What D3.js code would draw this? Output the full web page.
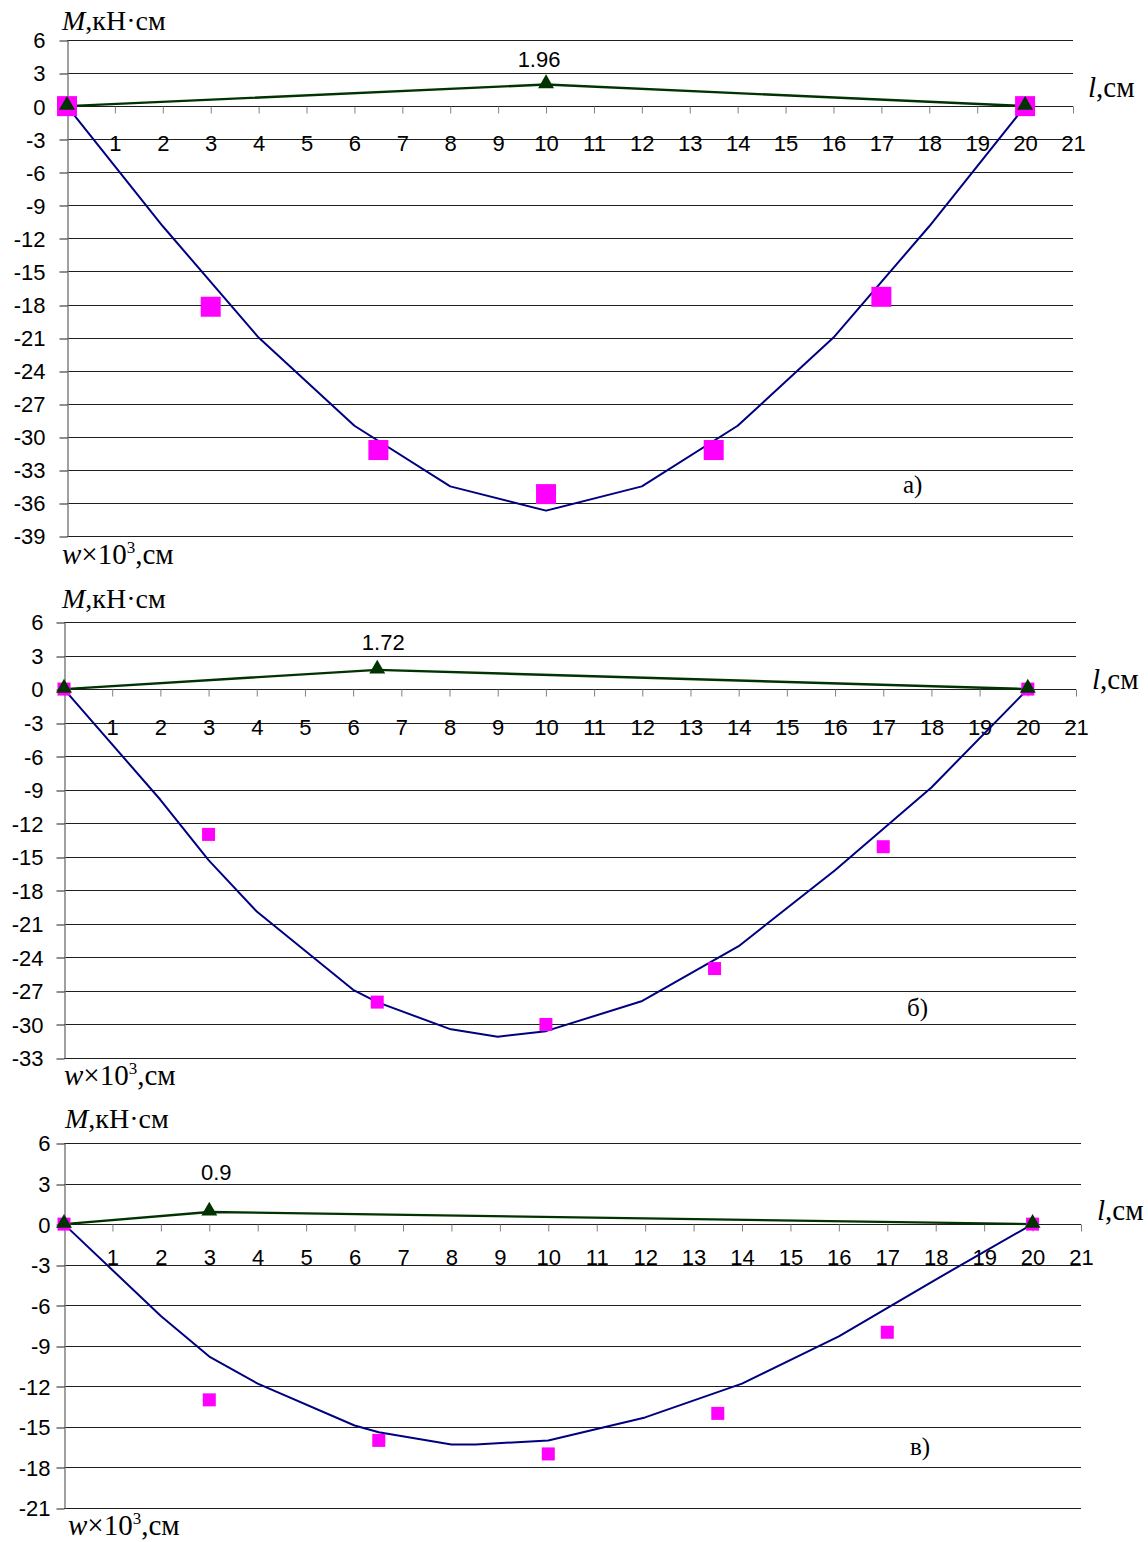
<!DOCTYPE html>
<html>
<head>
<meta charset="utf-8">
<script src="https://cdn.jsdelivr.net/npm/d3@7/dist/d3.min.js"></script>
<style>
  html, body { margin: 0; padding: 0; background: #fff; }
  svg { display: block; }
  .tick text { font-family: "Liberation Sans", Arial, sans-serif; font-size: 22px; fill: #000; }
  .serif { font-family: "Liberation Serif", "Times New Roman", serif; fill: #000; }
</style>
</head>
<body>
<svg id="chart" width="1148" height="1542"></svg>
<script>
// ---- data ----
const xTickLabels = [1, 2, 3, 4, 5, 6, 7, 8, 9, 10, 11, 12, 13, 14, 15, 16, 17, 18, 19, 20, 21];

const yTicksA = [6, 3, 0, -3, -6, -9, -12, -15, -18, -21, -24, -27, -30, -33, -36, -39];
const yTicksB = [6, 3, 0, -3, -6, -9, -12, -15, -18, -21, -24, -27, -30, -33];
const yTicksC = [6, 3, 0, -3, -6, -9, -12, -15, -18, -21];

// bending moment M, kN·cm
const momentXA = [0, 10, 20];
const momentYA = [0, 1.96, 0];
const momentXB = [0, 6.5, 20];
const momentYB = [0, 1.72, 0];
const momentXC = [0, 3, 20];
const momentYC = [0, 0.9, 0];

// calculated deflection w×10^3, cm
const calcXA = [0, 2, 4, 6, 8, 10, 12, 14, 16, 18, 20];
const calcYA = [0, -10.9, -21, -29, -34.5, -36.7, -34.5, -29, -21, -10.9, 0];
const calcXB = [0, 2, 3, 4, 6, 6.5, 8, 9, 10, 12, 14, 16, 18, 20];
const calcYB = [0, -9.9, -15.3, -19.9, -26.9, -28, -30.4, -31.1, -30.6, -27.9, -23, -16.2, -8.8, 0];
const calcXC = [0, 2, 3, 4, 6, 6.5, 8, 8.5, 10, 12, 14, 16, 18, 20];
const calcYC = [0, -6.8, -9.8, -11.8, -14.9, -15.4, -16.3, -16.3, -16.0, -14.3, -11.8, -8.3, -4.1, 0];

// measured deflection w×10^3, cm
const measXA = [0, 3, 6.5, 10, 13.5, 17, 20];
const measYA = [0, -18.2, -31.2, -35.2, -31.2, -17.3, 0];
const measXB = [0, 3, 6.5, 10, 13.5, 17, 20];
const measYB = [0, -13, -28, -30, -25, -14.1, 0];
const measXC = [0, 3, 6.5, 10, 13.5, 17, 20];
const measYC = [0, -13, -16, -17, -14, -8, 0];

const panelLetters = ["а)", "б)", "в)"];

// ---- layout of the three stacked panels ----
const panels = [
  { ticks: yTicksA, mX: momentXA, mY: momentYA, cX: calcXA, cY: calcYA, eX: measXA, eY: measYA,
    left: 67, right: 1073, top: 40, bottom: 536, sq: 20, lblPad: 14, xLblOff: 37, valOff: 18, valDx: -7,
    mLbl: [62, 30], wLbl: [62, 564], lLbl: [1088, 97], letter: [903, 493] },
  { ticks: yTicksB, mX: momentXB, mY: momentYB, cX: calcXB, cY: calcYB, eX: measXB, eY: measYB,
    left: 64, right: 1076, top: 622, bottom: 1058, sq: 13, lblPad: 13, xLblOff: 38, valOff: 20, valDx: 6,
    mLbl: [62, 608], wLbl: [64, 1085], lLbl: [1092, 689], letter: [907, 1016] },
  { ticks: yTicksC, mX: momentXC, mY: momentYC, cX: calcXC, cY: calcYC, eX: measXC, eY: measYC,
    left: 64, right: 1081, top: 1143, bottom: 1508, sq: 13, lblPad: 6, xLblOff: 33, valOff: 32, valDx: 7,
    mLbl: [65, 1128], wLbl: [68, 1535], lLbl: [1097, 1220], letter: [910, 1455] }
];

const svg = d3.select("#chart");
svg.append("rect").attr("width", 1148).attr("height", 1542).attr("fill", "#fff");

const plain = d => String(d);

panels.forEach((p, i) => {
  const yMax = d3.max(p.ticks), yMin = d3.min(p.ticks);
  const x = d3.scaleLinear().domain([0, 21]).range([p.left, p.right]);
  const y = d3.scaleLinear().domain([yMin, yMax]).range([p.bottom, p.top]);
  const g = svg.append("g");

  // horizontal gridlines
  g.append("g").selectAll("line").data(p.ticks).join("line")
    .attr("x1", p.left).attr("x2", p.right)
    .attr("y1", d => Math.round(y(d)) + 0.5).attr("y2", d => Math.round(y(d)) + 0.5)
    .attr("stroke", "#1e1e1e").attr("stroke-width", 1);

  // y axis
  const yAxis = d3.axisLeft(y).tickValues(p.ticks).tickSize(8).tickSizeOuter(0)
    .tickPadding(p.lblPad).tickFormat(plain);
  const ya = g.append("g").attr("transform", `translate(${p.left + 0.5},0)`).call(yAxis);
  ya.select(".domain").attr("stroke", "#808080").attr("stroke-width", 1.5);
  ya.selectAll(".tick line").attr("stroke", "#1e1e1e")
    .attr("transform", d => `translate(0,${Math.round(y(d)) + 0.5 - y(d)})`);
  ya.selectAll(".tick text").attr("dy", "0.36em");

  // x axis through zero
  const xAxis = d3.axisBottom(x).tickValues(xTickLabels).tickSize(7).tickSizeOuter(0)
    .tickPadding(p.xLblOff - 7 - 8).tickFormat(plain);
  const xa = g.append("g").attr("transform", `translate(0,${Math.round(y(0)) + 0.5})`).call(xAxis);
  xa.select(".domain").remove();
  xa.selectAll(".tick line").attr("stroke", "#808080");

  // calculated deflection curve
  const line = d3.line().x(d => x(d[0])).y(d => y(d[1]));
  g.append("path").datum(d3.zip(p.cX, p.cY)).attr("d", line)
    .attr("fill", "none").attr("stroke", "#000080").attr("stroke-width", 2)
    .attr("stroke-linejoin", "round");

  // bending moment diagram
  g.append("path").datum(d3.zip(p.mX, p.mY)).attr("d", line)
    .attr("fill", "none").attr("stroke", "#003300").attr("stroke-width", 2.4);

  // measured deflection points
  g.append("g").selectAll("rect").data(d3.zip(p.eX, p.eY)).join("rect")
    .attr("x", d => x(d[0]) - p.sq / 2).attr("y", d => y(d[1]) - p.sq / 2)
    .attr("width", p.sq).attr("height", p.sq).attr("fill", "#ff00ff");

  // moment markers
  const tri = d3.symbol().type(d3.symbolTriangle).size(110);
  g.append("g").selectAll("path").data(d3.zip(p.mX, p.mY)).join("path")
    .attr("d", tri)
    .attr("transform", d => `translate(${x(d[0])},${y(d[1]) - 1})`)
    .attr("fill", "#003300");

  // peak moment value
  const iPeak = d3.maxIndex(p.mY);
  g.append("text")
    .attr("x", x(p.mX[iPeak]) + p.valDx).attr("y", y(p.mY[iPeak]) - p.valOff)
    .attr("text-anchor", "middle")
    .attr("font-family", "Liberation Sans, Arial, sans-serif").attr("font-size", 22)
    .text(p.mY[iPeak]);

  // axis titles
  const mt = g.append("text").attr("class", "serif").attr("font-size", 28)
    .attr("x", p.mLbl[0]).attr("y", p.mLbl[1]);
  mt.append("tspan").attr("font-style", "italic").text("M");
  mt.append("tspan").text(",кН·см");

  const wt = g.append("text").attr("class", "serif").attr("font-size", 29)
    .attr("x", p.wLbl[0]).attr("y", p.wLbl[1]);
  wt.append("tspan").attr("font-style", "italic").text("w");
  wt.append("tspan").text("×10");
  wt.append("tspan").attr("font-size", 17).attr("dy", -11).text("3");
  wt.append("tspan").attr("dy", 11).text(",см");

  const lt = g.append("text").attr("class", "serif").attr("font-size", 29)
    .attr("x", p.lLbl[0]).attr("y", p.lLbl[1]);
  lt.append("tspan").attr("font-style", "italic").text("l");
  lt.append("tspan").text(",см");

  g.append("text").attr("class", "serif").attr("font-size", 25)
    .attr("x", p.letter[0]).attr("y", p.letter[1]).text(panelLetters[i]);
});
</script>
</body>
</html>
